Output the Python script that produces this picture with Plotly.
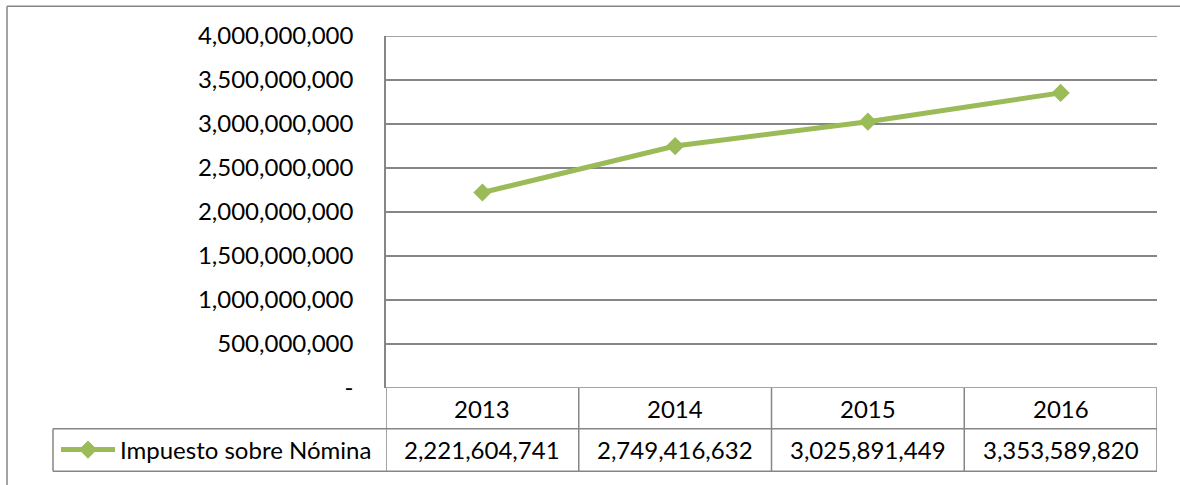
import plotly.graph_objects as go

# Payroll tax collection by year
years = ["2013", "2014", "2015", "2016"]
values = [2221604741, 2749416632, 3025891449, 3353589820]
series_name = "Impuesto sobre Nómina"

y_tick_values = [0, 500000000, 1000000000, 1500000000, 2000000000,
                 2500000000, 3000000000, 3500000000, 4000000000]
y_tick_labels = ["-", "500,000,000", "1,000,000,000", "1,500,000,000",
                 "2,000,000,000", "2,500,000,000", "3,000,000,000",
                 "3,500,000,000", "4,000,000,000"]

W, H = 1180, 485
L, R, T, B = 386, 23, 36, 94
PW, PH = W - L - R, H - T - B

GREEN = "#9BBB59"
GRAY = "#868686"
FONT = "Lato"
FS = 24


def px_x(p):
    """pixel column -> paper x"""
    return (p - L) / PW


def px_y(p):
    """pixel row -> paper y"""
    return (H - B - p) / PH


fig = go.Figure()
fig.add_trace(go.Scatter(
    x=list(range(len(years))), y=values, name=series_name,
    mode="lines+markers",
    line=dict(color=GREEN, width=5),
    marker=dict(symbol="diamond", size=14, color=GREEN),
))

# data table underneath the plot
row1_bottom = px_y(432)
row2_bottom = px_y(475)
legend_left = px_x(53)
line_style = dict(color=GRAY, width=1.5)

shapes = []
# outer grid lines at the bottom and top of the value range
for yv in (y_tick_values[0], y_tick_values[-1]):
    shapes.append(dict(type="line", xref="paper", yref="y", x0=0, x1=1,
                       y0=yv, y1=yv, line=line_style))
for yb in (row1_bottom, row2_bottom):
    shapes.append(dict(type="line", xref="paper", yref="paper",
                       x0=legend_left if yb == row2_bottom else legend_left,
                       x1=1, y0=yb, y1=yb, line=line_style))
for i in range(len(years) + 1):
    shapes.append(dict(type="line", xref="x", yref="paper",
                       x0=i - 0.5, x1=i - 0.5, y0=0, y1=row2_bottom,
                       line=line_style))
shapes.append(dict(type="line", xref="paper", yref="paper",
                   x0=legend_left, x1=legend_left, y0=row1_bottom,
                   y1=row2_bottom, line=line_style))
# outer chart frame
frame_x = px_x(7)
frame_y = px_y(6)
shapes.append(dict(type="line", xref="paper", yref="paper",
                   x0=frame_x, x1=frame_x, y0=px_y(H + 5), y1=frame_y,
                   line=dict(color=GRAY, width=1.5)))
shapes.append(dict(type="line", xref="paper", yref="paper",
                   x0=frame_x, x1=px_x(W + 5), y0=frame_y, y1=frame_y,
                   line=dict(color=GRAY, width=1.5)))

annotations = []
for i, (yr, v) in enumerate(zip(years, values)):
    annotations.append(dict(x=i, xref="x", yref="paper",
                            y=(0 + row1_bottom) / 2, text=yr,
                            showarrow=False, yanchor="middle",
                            font=dict(family=FONT, size=FS, color="#000")))
    annotations.append(dict(x=i, xref="x", yref="paper",
                            y=(row1_bottom + row2_bottom) / 2,
                            text=f"{v:,}", showarrow=False,
                            yanchor="middle",
                            font=dict(family=FONT, size=FS, color="#000")))

fig.update_layout(
    width=W, height=H,
    margin=dict(l=L, r=R, t=T, b=B),
    paper_bgcolor="white", plot_bgcolor="white",
    font=dict(family=FONT, size=FS, color="#000"),
    showlegend=True,
    legend=dict(x=px_x(56), xanchor="left", itemwidth=54,
                y=(row1_bottom + row2_bottom) / 2, yanchor="middle",
                bgcolor="rgba(0,0,0,0)", borderwidth=0,
                font=dict(family=FONT, size=FS, color="#000")),
    xaxis=dict(range=[-0.5, len(years) - 0.5],
               showticklabels=False, showgrid=False, showline=False,
               zeroline=False, fixedrange=True),
    yaxis=dict(range=[0, 4000000000], tickvals=y_tick_values,
               ticktext=y_tick_labels, showgrid=True, gridcolor=GRAY,
               gridwidth=1.5, showline=True, linecolor=GRAY, linewidth=1.5,
               zeroline=False, ticks="", ticklabelstandoff=26,
               tickfont=dict(family=FONT, size=FS, color="#000")),
    shapes=shapes,
    annotations=annotations,
)

fig.write_html("out.html")
